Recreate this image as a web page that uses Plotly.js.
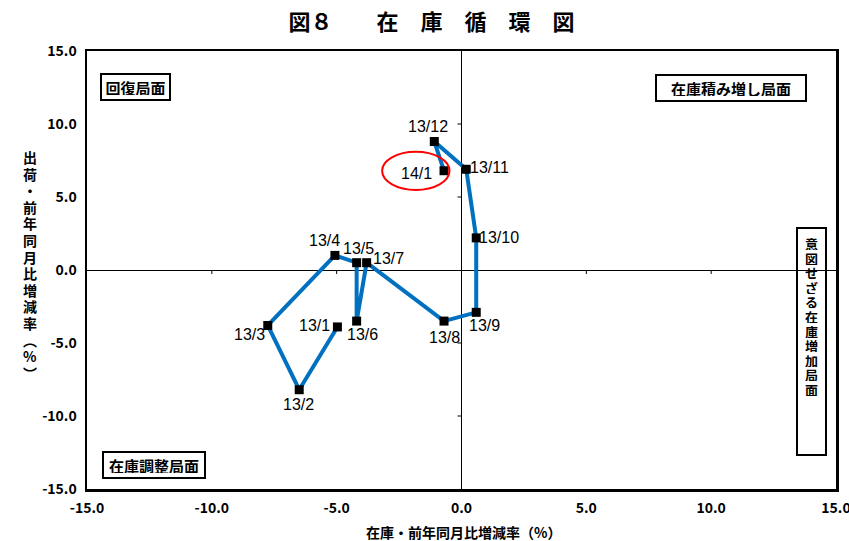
<!DOCTYPE html>
<html><head><meta charset="utf-8">
<script src="https://cdn.plot.ly/plotly-3.0.1.min.js"></script>
<style>html,body{margin:0;padding:0;background:#fff;}#chart{width:849px;height:541px;}</style>
</head><body><div id="chart"></div>
<script>
// ---- data ----
const months = ['13/1','13/2','13/3','13/4','13/5','13/6','13/7','13/8','13/9','13/10','13/11','13/12','14/1'];
const inventoryYoY = [-4.97,-6.5,-7.76,-5.07,-4.2,-4.2,-3.8,-0.7,0.59,0.59,0.19,-1.09,-0.7];
const shipmentYoY = [-3.9,-8.2,-3.8,1.0,0.5,-3.5,0.5,-3.5,-2.9,2.2,6.9,8.8,6.8];
const tickVals = [-15,-10,-5,0,5,10,15];
const tickText = ['-15.0','-10.0','-5.0','0.0','5.0','10.0','15.0'];
const titleText = '図８　　在　庫　循　環　図';
const xTitle = '在庫・前年同月比増減率（%）';
const yTitle = ['出','荷','・','前','年','同','月','比','増','減','率','︵','%','︶'];
const quadRecovery = '回復局面';
const quadBuild = '在庫積み増し局面';
const quadAdjust = '在庫調整局面';
const quadUnintended = '意図せざる在庫増加局面';

// ---- styles ----
const labelShift = [[-23,1],[-1,-15],[-18,-9],[-10,15],[2,14],[6,-13],[22,4],[0,-16],[8,-13],[23,0],[23,2],[-6,15],[-28,-3]];
const boldFont = '"Noto Sans CJK JP", "Noto Sans CJK SC", sans-serif';
const labelFont = '"Liberation Sans", Arial, sans-serif';

const pxX = px => (px - 87) / 749;
const pxY = py => (489 - py) / 438;

const annotations = [];
months.forEach((m, i) => {
  annotations.push({x: inventoryYoY[i], y: shipmentYoY[i], xref:'x', yref:'y', text: m, showarrow:false,
    xanchor:'center', yanchor:'middle',
    xshift: labelShift[i][0], yshift: labelShift[i][1],
    font:{family: labelFont, size:16, color:'#000'}});
});
function box(text, cx, cy, w){
  annotations.push({x: pxX(cx), y: pxY(cy), xref:'paper', yref:'paper', text: text, showarrow:false,
    xanchor:'center', yanchor:'middle',
    width: w, height: 16, bgcolor:'#fff', bordercolor:'#000', borderwidth:2, borderpad:4,
    font:{family: boldFont, size:15, color:'#000', weight:'bold'}});
}
box(quadRecovery, 135, 87, 59);
box(quadBuild, 731, 88, 140);
box(quadAdjust, 154, 465, 92);

// vertical texts: one annotation per character, boxes sized to the character pitch
Array.from(quadUnintended).forEach((ch, i) => {
  annotations.push({x: pxX(811.5), y: pxY(243 + i*14.6), xref:'paper', yref:'paper', text: ch, showarrow:false,
    xanchor:'center', yanchor:'middle', height:14, borderpad:0,
    font:{family: boldFont, size:13, color:'#000', weight:'bold'}});
});
yTitle.forEach((ch, i) => {
  annotations.push({x: pxX(30), y: pxY(157 + i*16.6), xref:'paper', yref:'paper', text: ch, showarrow:false,
    xanchor:'center', yanchor:'middle', height:16, borderpad:0,
    font:{family: boldFont, size:14, color:'#000', weight:'bold'}});
});
annotations.push({x: pxX(463), y: pxY(532), xref:'paper', yref:'paper', text: xTitle, showarrow:false,
  xanchor:'center', yanchor:'middle',
  font:{family: boldFont, size:14, color:'#000', weight:'bold'}});

const shapes = [
  {type:'rect', xref:'paper', yref:'paper', x0: pxX(797), x1: pxX(826), y0: pxY(455), y1: pxY(228),
   line:{color:'#000', width:2}, fillcolor:'rgba(0,0,0,0)'},
  {type:'circle', xref:'x', yref:'y', x0:-3.18, x1:-0.48, y0:5.48, y1:8.1, line:{color:'#FF0000', width:2}}
];
tickVals.forEach(v => {
  if (v === 0 || Math.abs(v) === 15) return;
  shapes.push({type:'line', xref:'x', yref:'y', x0:v, x1:v, ysizemode:'pixel', yanchor:0, y0:0, y1:-4, line:{color:'#000', width:1}});
  shapes.push({type:'line', xref:'x', yref:'y', y0:v, y1:v, xsizemode:'pixel', xanchor:0, x0:0, x1:-4, line:{color:'#000', width:1}});
});

const trace = {
  x: inventoryYoY, y: shipmentYoY, mode:'lines+markers', type:'scatter',
  line:{color:'#0070C0', width:4},
  marker:{symbol:'square', size:9, color:'#000'},
  hoverinfo:'none', cliponaxis:false
};

const axisCommon = {
  range:[-15,15], tickvals: tickVals, ticktext: tickText, showgrid:false,
  zeroline:true, zerolinecolor:'#000', zerolinewidth:1,
  showline:true, mirror:true, linecolor:'#000', linewidth:2.5,
  ticks:'outside', ticklen:5, tickcolor:'rgba(0,0,0,0)',
  ticklabeloverflow:'allow',
  tickfont:{family: boldFont, size:14, color:'#000', weight:'bold'},
  fixedrange:true
};

const layout = {
  width:849, height:541,
  margin:{l:87, r:13, t:51, b:52},
  paper_bgcolor:'#fff', plot_bgcolor:'#fff',
  showlegend:false,
  title:{text: titleText, x: 431.5/849, xref:'container', y: 1 - 22/541, yref:'container', xanchor:'center', yanchor:'middle',
    font:{family: boldFont, size:22, color:'#000', weight:'bold'}},
  xaxis: Object.assign({}, axisCommon),
  yaxis: Object.assign({}, axisCommon),
  annotations: annotations,
  shapes: shapes
};

Plotly.newPlot('chart', [trace], layout, {staticPlot:true, displayModeBar:false});
</script>
</body></html>
